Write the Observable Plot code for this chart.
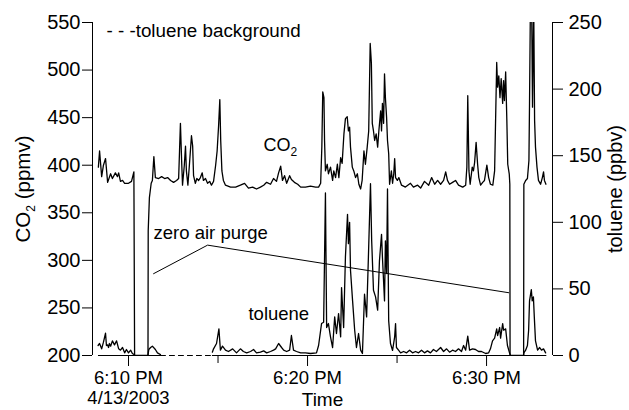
<!DOCTYPE html>
<html><head><meta charset="utf-8">
<script src="https://cdn.jsdelivr.net/npm/d3@7"></script>
<script src="https://cdn.jsdelivr.net/npm/@observablehq/plot@0.6"></script>
<style>body{margin:0;background:#fff}</style>
</head><body><div id="chart"></div>
<script>
// times are seconds after 6:08:00 PM, 4/13/2003
const co2Time = [19,23,30,36,43,50,60,66,76,83,87,93,100,107,120,130,138,141,185,186,190,196,200,205,210,221,231,241,251,261,271,281,288,291,294,298,301,307,311,314,319,324,331,335,338,344,349,355,361,367,371,378,385,392,398,405,412,417,422,426,429,433,438,445,462,479,495,509,522,536,549,562,573,583,596,606,616,623,630,636,643,650,660,666,676,687,697,713,730,747,757,764,768,771,775,777,780,786,790,797,804,808,814,820,825,831,836,842,847,853,857,861,864,870,875,881,887,892,898,903,909,914,920,925,930,934,937,941,945,950,955,959,965,968,971,975,978,981,985,988,992,995,1001,1005,1009,1012,1015,1021,1026,1035,1048,1065,1075,1089,1099,1112,1126,1136,1146,1156,1166,1176,1183,1189,1196,1206,1216,1226,1240,1250,1254,1257,1261,1265,1272,1276,1280,1285,1290,1294,1300,1307,1313,1321,1327,1333,1341,1347,1354,1357,1361,1365,1369,1374,1377,1380,1384,1388,1391,1396,1398,1399,1444,1445,1451,1457,1462,1464,1467,1471,1474,1478,1481,1484,1489,1494,1501,1507,1511,1514,1519];
const co2Value = [398,415,388,400,407,382,391,386,392,388,392,383,384,381,381,383,393,150,150,331,366,381,384,409,387,386,388,386,387,384,382,384,386,415,444,405,379,400,420,394,379,400,431,420,389,381,386,384,387,392,384,386,381,383,379,383,400,415,442,469,426,394,384,379,377,377,379,381,376,377,375,377,379,382,380,386,383,392,399,384,389,381,389,385,382,380,377,377,378,377,377,381,420,477,471,426,394,401,391,398,384,394,387,401,387,408,402,433,449,451,436,440,419,398,394,387,391,380,375,384,415,401,419,436,528,507,444,436,426,433,419,436,457,436,465,444,496,471,450,426,412,380,394,381,391,407,387,384,387,379,377,381,377,379,376,383,379,387,380,384,380,384,393,384,380,382,384,379,377,379,398,473,394,380,398,394,403,424,401,387,379,382,384,400,387,380,379,394,508,482,494,471,491,465,489,468,498,447,401,391,380,150,150,380,384,386,405,465,570,575,461,570,447,419,398,384,380,387,393,384,380];

const tolTime = [18,23,30,36,43,46,50,53,56,60,66,73,80,87,93,100,107,113,120,127,133,140,142,185,188,194,200,210,217,227,228,400,401,405,415,423,428,435,445,455,469,482,495,505,516,529,539,549,562,573,583,596,606,613,623,633,640,650,660,666,673,683,697,713,730,750,757,764,767,774,780,784,790,797,804,811,817,824,831,834,841,847,854,857,861,864,871,878,884,891,898,904,911,918,924,931,935,941,948,955,961,968,971,978,981,985,988,992,998,1005,1012,1015,1018,1025,1032,1042,1052,1062,1072,1082,1092,1102,1112,1122,1132,1142,1152,1166,1176,1186,1196,1206,1216,1226,1236,1243,1250,1257,1263,1273,1283,1293,1303,1317,1327,1333,1340,1347,1354,1357,1364,1367,1374,1377,1384,1390,1397,1400,1444,1445,1451,1457,1461,1464,1470,1473,1477,1480,1484,1491,1498,1504,1511,1518];
const tolValue = [7.5,9,5,10,16.7,7.5,8,6,9,7,11,8,11,5,4,6,2,4.5,2,4,1.5,0.5,0,0,4.5,6,7,4.5,2,0.7,null,null,2.5,5,9,20,4,7,4,3,5,2,5,3,2,3,4.5,2,2.5,3.5,2,3,4,5,9,6,4,3,4,15,4,3,2,2,1.5,2,7.5,19,24,25,122,21,24,14,6,29,16.5,31.5,14,51,21,74,106,84,100,64,41,19,6,16.5,4,1.5,46,29,74,129,86,49,44,34,71,91,74,41,86,61.5,125,26,9,3.8,14,24,6,4,2,3,2,4,2,3,2,4,2,3.5,2,4.5,3,6,3,5,2.5,4,3,5,3,7.5,4,14.5,4,5,4.5,3,3,1.5,2,5,11,13,20,15,21,13,24,19,20,7.5,2,0,0,2,4,7.5,19,41,49.5,41,44,29,11,4,6,4,5,2];

// toluene background: solid under the trace, dashed where the trace has no data
const bgTime = [19, 227, 401, 1519];
const bgValue = [0, 0, 0, 0];
const bgDashed = [false, true, false];   // per segment

const co2Ticks = [200, 250, 300, 350, 400, 450, 500, 550];
const tolTicks = [0, 50, 100, 150, 200, 250];
const majorTickSec = [120, 720, 1320];
const majorTickLabels = ["6:10 PM\n4/13/2003", "6:20 PM", "6:30 PM"];
const minorTickSec = [420, 1020];

const purgeTime = [204, 385, 1394];
const purgeValue = [286, 316, 266];

const base = Date.UTC(2003, 3, 13, 18, 8, 0);
const T = s => new Date(base + s * 1000);
const tolToY = v => v == null ? null : 200 + v * 350 / 250;
const yToTol = y => Math.round((y - 200) * 250 / 350);

const co2 = co2Time.map((s, i) => ({t: T(s), v: co2Value[i]}));
const tol = tolTime.map((s, i) => ({t: T(s), v: tolValue[i]}));
const bgSolid = [], bgDash = [];
bgDashed.forEach((d, k) => {
  const seg = [k, k + 1].map(j => ({t: T(bgTime[j]), v: bgValue[j], seg: k}));
  (d ? bgDash : bgSolid).push(...seg);
});
const purge = purgeTime.map((s, i) => ({t: T(s), v: purgeValue[i]}));
const labelMap = new Map(majorTickSec.map((s, i) => [+T(s), majorTickLabels[i]]));
const xDomain = [T(-0.7), T(1541)];

const font = "Liberation Sans, Arial, Helvetica, sans-serif";

const chart = Plot.plot({
  width: 629, height: 410,
  marginLeft: 92, marginRight: 77, marginTop: 22, marginBottom: 55,
  x: {type: "utc", domain: xDomain},
  y: {domain: [200, 550]},
  style: {fontFamily: font, color: "black", background: "white", overflow: "visible"},
  marks: [
    Plot.ruleX([xDomain[0], xDomain[1]], {stroke: "black", strokeWidth: 1}),
    Plot.line(bgSolid, {x: "t", y: d => tolToY(d.v), z: "seg", stroke: "black", strokeWidth: 1}),
    Plot.line(bgDash, {x: "t", y: d => tolToY(d.v), z: "seg", stroke: "black", strokeWidth: 1, strokeDasharray: "5,4"}),
    Plot.line(co2, {x: "t", y: "v", stroke: "black", strokeWidth: 1.3, clip: true}),
    Plot.line(tol, {x: "t", y: d => tolToY(d.v), stroke: "black", strokeWidth: 1.3, clip: true}),
    Plot.line(purge, {x: "t", y: "v", stroke: "black", strokeWidth: 1}),
    Plot.axisY({ticks: co2Ticks, tickSize: 10, tickPadding: 2, fontSize: 20, label: null}),
    Plot.axisY({anchor: "right", ticks: tolTicks.map(tolToY), tickFormat: d => String(yToTol(d)), tickSize: 10, tickPadding: 6, fontSize: 20, label: null}),
    Plot.axisX({ticks: majorTickSec.map(T), tickFormat: d => labelMap.get(+d), tickSize: 11, tickPadding: 3, fontSize: 18.5, lineHeight: 1.08, label: null}),
    Plot.axisX({ticks: minorTickSec.map(T), tickFormat: () => "", tickSize: 8, label: null}),
    Plot.text(["Time"], {text: d => d, frameAnchor: "bottom", dy: 44, lineAnchor: "middle", fontSize: 19}),
    Plot.text(["CO2 (ppmv)"], {text: d => d, frameAnchor: "left", dx: -69, rotate: -90, lineAnchor: "middle", textAnchor: "middle", fontSize: 20.5}),
    Plot.text(["toluene (ppbv)"], {text: d => d, frameAnchor: "right", dx: 63, dy: 0, rotate: -90, lineAnchor: "middle", textAnchor: "middle", fontSize: 20}),
    Plot.text(["- - -toluene background"], {text: d => d, frameAnchor: "top-left", dx: 14, dy: 8, lineAnchor: "middle", textAnchor: "start", fontSize: 18.8}),
    Plot.text([{t: T(572), v: 421, s: "CO2"}], {x: "t", y: "v", text: "s", textAnchor: "start", lineAnchor: "middle", fontSize: 18}),
    Plot.text([{t: T(522), v: 244, s: "toluene"}], {x: "t", y: "v", text: "s", textAnchor: "start", lineAnchor: "middle", fontSize: 18.5}),
    Plot.text([{t: T(204), v: 329, s: "zero air purge"}], {x: "t", y: "v", text: "s", textAnchor: "start", lineAnchor: "middle", fontSize: 18.5})
  ]
});

document.getElementById("chart").appendChild(chart);

// subscript the 2 in CO2
d3.select(chart).selectAll("text").each(function() {
  const el = this;
  if (el.childElementCount === 0 && el.textContent.startsWith("CO2")) {
    const rest = el.textContent.slice(3);
    const big = parseFloat(el.getAttribute("font-size")) || 18;
    el.textContent = "CO";
    const ns = "http://www.w3.org/2000/svg";
    const sub = document.createElementNS(ns, "tspan");
    sub.setAttribute("dy", String(Math.round(big * 0.28)));
    sub.setAttribute("font-size", String(Math.round(big * 0.66)));
    sub.textContent = "2";
    el.appendChild(sub);
    if (rest) {
      const r = document.createElementNS(ns, "tspan");
      r.setAttribute("dy", String(-Math.round(big * 0.28)));
      r.textContent = rest;
      el.appendChild(r);
    }
  }
});
</script></body></html>
